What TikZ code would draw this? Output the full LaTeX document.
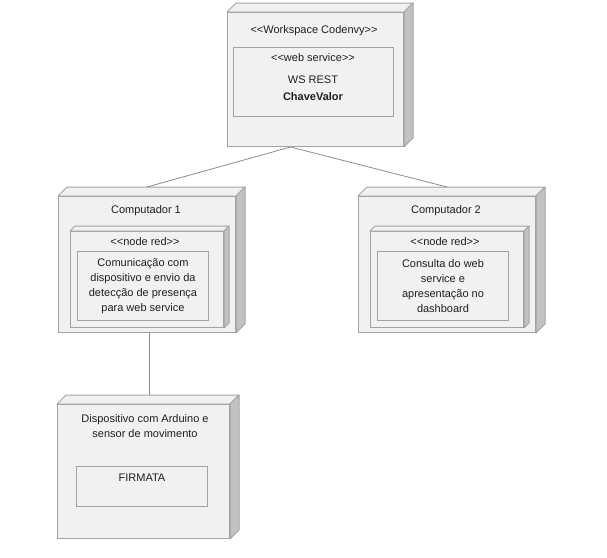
\documentclass[tikz,border=0pt]{standalone}
\usepackage{fontspec}
\setmainfont{Liberation Sans}
\definecolor{nodefill}{HTML}{F1F1F1}
\definecolor{nodeline}{HTML}{A3A3A3}
\definecolor{sidefill}{HTML}{C2C2C2}
\definecolor{wireline}{HTML}{8C8C8C}
\tikzset{
  front/.style={draw=nodeline, fill=nodefill, line width=1pt, inner sep=0pt, anchor=north west},
  lid/.style={draw=nodeline, fill=nodefill, line width=1pt, line join=round},
  side/.style={draw=nodeline, fill=sidefill, line width=1pt, line join=round},
  txt/.style={font=\fontsize{11}{15}\selectfont, align=center, text=black!88, inner sep=0pt},
  wire/.style={draw=wireline, line width=0.8pt}
}
% guillemet-free stereotype brackets
\newcommand{\lt}{<{}<}
\newcommand{\gt}{>{}>}
% top and right faces of a 3d node
\newcommand{\nodefaces}[2]{%
  \draw[lid] (#1.north west) -- ++(#2,-#2) -- ([shift={(#2,-#2)}]#1.north east) -- (#1.north east) -- cycle;
  \draw[side] (#1.north east) -- ([shift={(#2,-#2)}]#1.north east) -- ([shift={(#2,-#2)}]#1.south east) -- (#1.south east) -- cycle;
}
\begin{document}
\begin{tikzpicture}[x=1pt,y=-1pt]
  \useasboundingbox (0,0) rectangle (607,557);
  % workspace
  \node[front, minimum width=176pt, minimum height=134pt] (ws) at (227,12) {};
  \nodefaces{ws}{9}
  \node[txt] (wslabel) at (314,31) {\lt Workspace Codenvy\gt};
  \node[front, minimum width=160pt, minimum height=69pt] (wsin) at (233,47) {};
  \node[txt] (wsstereo) at (313,58) {\lt web service\gt};
  \node[txt] (wsname) at (313,80) {WS REST};
  \node[txt] (wsbold) at (313,97) {\bfseries ChaveValor};
  % computador 1
  \node[front, minimum width=177pt, minimum height=136pt] (c1) at (58,196) {};
  \nodefaces{c1}{9}
  \node[txt] (c1label) at (146,211) {Computador 1};
  \node[front, minimum width=153pt, minimum height=96pt] (c1red) at (70,231) {};
  \nodefaces{c1red}{5}
  \node[txt] (c1stereo) at (145,242) {\lt node red\gt};
  \node[front, minimum width=131pt, minimum height=69pt] (c1txt) at (77,251) {};
  \node[txt] (c1desc) at (c1txt.center) {Comunicação com\\dispositivo e envio da\\detecção de presença\\para web service};
  % computador 2
  \node[front, minimum width=177pt, minimum height=136pt] (c2) at (358,196) {};
  \nodefaces{c2}{9}
  \node[txt] (c2label) at (446,211) {Computador 2};
  \node[front, minimum width=153pt, minimum height=96pt] (c2red) at (370,231) {};
  \nodefaces{c2red}{5}
  \node[txt] (c2stereo) at (445,242) {\lt node red\gt};
  \node[front, minimum width=131pt, minimum height=69pt] (c2txt) at (377,251) {};
  \node[txt] (c2desc) at (c2txt.center) {Consulta do web\\service e\\apresentação no\\dashboard};
  % dispositivo
  \node[front, minimum width=172pt, minimum height=134pt] (dev) at (57,404) {};
  \nodefaces{dev}{9}
  \node[txt] (devlabel) at (145,426) {Dispositivo com Arduino e\\sensor de movimento};
  \node[front, minimum width=131pt, minimum height=40pt] (firm) at (76,466) {};
  \node[txt] (firmlabel) at (142,478) {FIRMATA};
  % connectors
  \coordinate (hub) at ([xshift=-25pt]ws.south);
  \coordinate (c1lid) at ([yshift=9pt]c1.north);
  \coordinate (c2lid) at ([yshift=9pt]c2.north);
  \coordinate (c1foot) at ([xshift=2.5pt]c1.south);
  \coordinate (devlid) at ([yshift=9pt]dev.north);
  \draw[wire] (hub) -- (c1lid);
  \draw[wire] (hub) -- (c2lid);
  \draw[wire] (c1foot) -- (c1foot |- devlid);
\end{tikzpicture}
\end{document}
